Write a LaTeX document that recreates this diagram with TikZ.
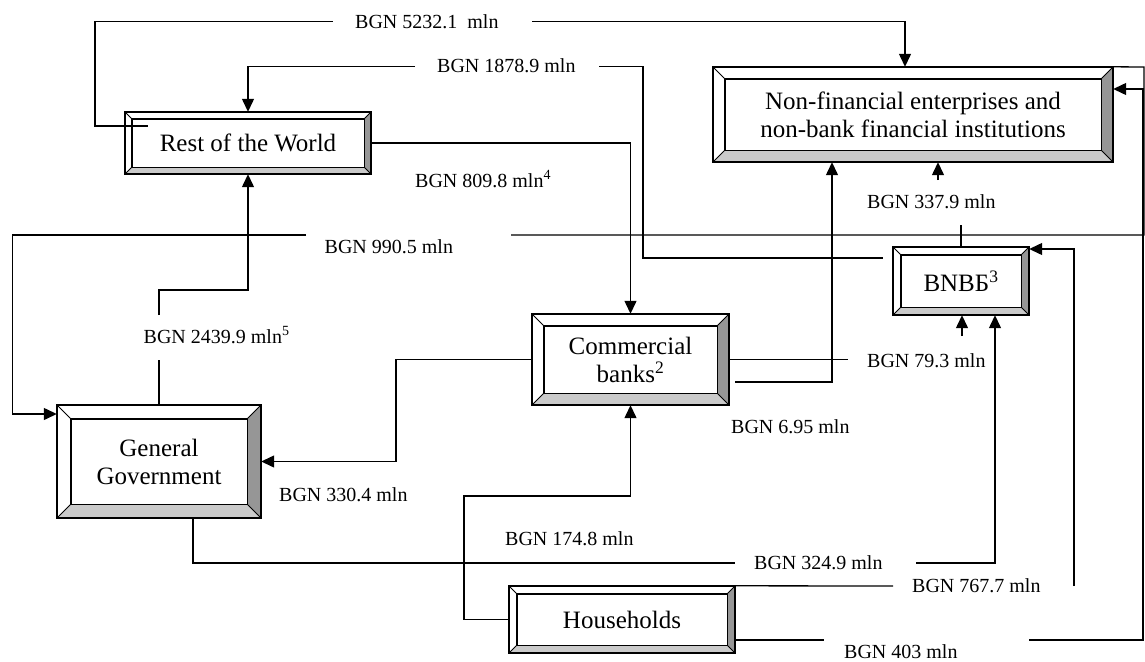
\documentclass[tikz,border=0pt]{standalone}
\usepackage{fontspec}
\setmainfont{Liberation Serif}
\usetikzlibrary{arrows.meta,calc}
\definecolor{bevdark}{HTML}{969696}
\definecolor{bevlight}{HTML}{CACACA}
\tikzset{
 boxtext/.style={inner sep=0pt, align=center, font=\fontsize{25}{28}\selectfont},
 conn/.style={line width=1.3pt},
 arr/.style={conn, -{Triangle[length=13pt,width=12pt]}},
 lbl/.style={inner sep=0pt, anchor=base west, font=\fontsize{20}{24}\selectfont},
 outerline/.style={line width=2pt},
 innerline/.style={line width=1.4pt},
}
\newcommand\bevelbox[7]{%
 \node[boxtext, minimum width=#4pt, minimum height=#5pt] (#1) at (#2,#3) {#7};
 \coordinate (#1-a) at ($(#1.north west)+(#6,#6)$);
 \coordinate (#1-b) at ($(#1.north east)+(-#6,#6)$);
 \coordinate (#1-c) at ($(#1.south east)+(-#6,-#6)$);
 \coordinate (#1-d) at ($(#1.south west)+(#6,-#6)$);
 \fill[white] (#1.north west) -- (#1.north east) -- (#1-b) -- (#1-a) -- cycle;
 \fill[white] (#1.north west) -- (#1-a) -- (#1-d) -- (#1.south west) -- cycle;
 \fill[bevdark] (#1.north east) -- (#1.south east) -- (#1-c) -- (#1-b) -- cycle;
 \fill[bevlight] (#1.south west) -- (#1.south east) -- (#1-c) -- (#1-d) -- cycle;
 \draw[innerline] (#1-a) rectangle (#1-c);
 \draw[line width=1pt] (#1.north west) -- (#1-a) (#1.north east) -- (#1-b) (#1.south east) -- (#1-c) (#1.south west) -- (#1-d);
 \draw[outerline] (#1.north west) rectangle (#1.south east);
}
\begin{document}
\begin{tikzpicture}[x=1pt,y=-1pt]
\useasboundingbox (0,0) rectangle (1145,661);
\bevelbox{row}{248}{143}{246}{62}{7}{Rest of the World}
\bevelbox{nfe}{913}{114.5}{400}{95}{12}{Non-financial enterprises and\\non-bank financial institutions}
\bevelbox{bnbb}{961}{281}{136}{68}{8}{BNBБ\textsuperscript{3}}
\bevelbox{cb}{630.5}{359.5}{197}{91}{12}{Commercial\\banks\textsuperscript{2}}
\bevelbox{gg}{159}{461.5}{204}{113}{14}{General\\Government}
\bevelbox{hh}{622}{619.5}{226}{67}{8}{Households}

% BGN 5232.1 mln : RoW -> NFE
\draw[conn] ([shift={(23,-17)}]row.west) -- (95,126) -- (95,21.7) -- (333,21.7);
\draw[arr] (532,21.7) -- (905,21.7) -- (905,21.7 |- nfe.north);
% BGN 1878.9 mln : BNBB -> RoW
\draw[conn] ($(bnbb.west |- 0,258)+(-10,0)$) -- (643,258) -- (643,66.7) -- (599,66.7);
\draw[arr] (415,66.7) -- (row.north |- 0,66.7) -- (row.north);
% BGN 809.8 mln : RoW -> CB
\draw[arr] (row.east) -| (cb.north);
% BGN 990.5 mln : NFE -> GG
\draw[conn] (nfe.north east) -- (1144,67) -- (1144,235) -- (511,235);
\draw[arr] (306,235) -- (12.6,235) -- (12.6,414) -- (gg.west |- 0,414);
% BGN 2439.9 mln : GG -> RoW
\draw[conn] (gg.north) -- (159,360);
\draw[arr] (159,315) -- (159,290) -| (row.south);
% BGN 330.4 mln : CB -> GG
\draw[arr] (cb.west) -| (396,461.5) -- (gg.east);
% BGN 6.95 mln : CB -> NFE
\draw[arr] (735,382) -| (nfe.south -| 832,0);
% BGN 79.3 mln : CB -> BNBB
\draw[conn] (cb.east) -- (848,359.5);
\draw[arr] (962,336) -- (962,336 |- bnbb.south);
% BGN 337.9 mln : BNBB -> NFE
\draw[conn] (bnbb.north) -- (961,225);
\draw[arr] (938,180) -- (938,180 |- nfe.south);
% BGN 324.9 mln : GG -> BNBB
\draw[conn] (gg.south -| 193,0) -- (193,563) -- (735,563);
\draw[arr] (916,563) -| (995,0 |- bnbb.south);
% BGN 174.8 mln : HH -> CB
\draw[arr] (hh.west) -| (464,496) -| (cb.south);
% BGN 767.7 mln : HH -> BNBB
\draw[conn] (hh.north east) -- (893,586);
\draw[arr] (1074,586) |- (bnbb.east |- 0,249);
% BGN 403 mln : HH -> NFE
\draw[conn] (hh.east |- 0,640) -- (824,640);
\draw[arr] (1029,640) -- (1143,640) -- (1143,89) -- (nfe.east |- 0,89);

\node[lbl] (l1) at (355,28.3) {BGN 5232.1~~mln};
\node[lbl] (l2) at (437,73) {BGN 1878.9 mln};
\node[lbl] (l3) at (415,187) {BGN 809.8 mln\textsuperscript{4}};
\node[lbl] (l4) at (324.5,253) {BGN 990.5 mln};
\node[lbl] (l5) at (143.5,343) {BGN 2439.9 mln\textsuperscript{5}};
\node[lbl] (l6) at (867,208.5) {BGN 337.9 mln};
\node[lbl] (l7) at (867,367) {BGN 79.3 mln};
\node[lbl] (l8) at (731,433) {BGN 6.95 mln};
\node[lbl] (l9) at (279,501) {BGN 330.4 mln};
\node[lbl] (l10) at (505,545) {BGN 174.8 mln};
\node[lbl] (l11) at (754,569) {BGN 324.9 mln};
\node[lbl] (l12) at (912,592) {BGN 767.7 mln};
\node[lbl] (l13) at (844,658) {BGN 403 mln};
\end{tikzpicture}
\end{document}
